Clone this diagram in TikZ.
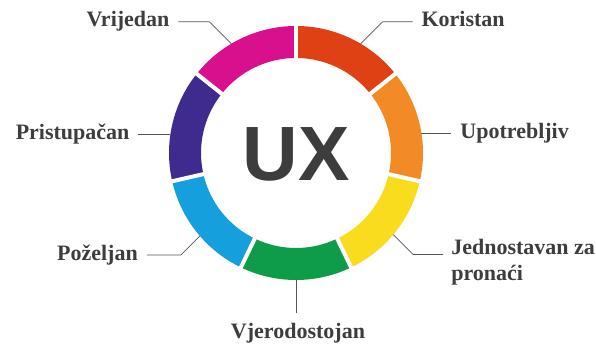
\documentclass[tikz,border=0pt]{standalone}
\usepackage{fontspec}
\setmainfont{Liberation Serif}
\newfontfamily\uxfont{Liberation Sans}
\usepackage{xcolor}
\usetikzlibrary{calc,positioning}

\definecolor{koristan}{HTML}{DF4014}
\definecolor{upotreba}{HTML}{F28A25}
\definecolor{pronaci}{HTML}{FADC1E}
\definecolor{vjerodost}{HTML}{0E9C4A}
\definecolor{pozeljan}{HTML}{159FDD}
\definecolor{pristup}{HTML}{3F2B8D}
\definecolor{vrijedan}{HTML}{D9108E}
\definecolor{tekst}{HTML}{3D3D3D}
\definecolor{linija}{HTML}{555555}

\begin{document}
\begin{tikzpicture}[x=1pt,y=1pt,
    lbl/.style={font=\fontsize{22}{26.5}\selectfont\bfseries, text=tekst,
        inner sep=1pt, outer sep=8pt, text height=14pt, text depth=4pt},
    lbltwo/.style={font=\fontsize{22}{26.5}\selectfont\bfseries, text=tekst,
        align=left, inner sep=0pt},
    lead/.style={draw=linija, line width=0.8pt}]
    \useasboundingbox (0,0) rectangle (596,347);
    \coordinate (C) at (296,194);

    % Ring
    \foreach \col [count=\i from 0] in {koristan,upotreba,pronaci,vjerodost,pozeljan,pristup,vrijedan} {
        \pgfmathsetmacro{\a}{90-\i*360/7}
        \pgfmathsetmacro{\b}{\a-360/7}
        \fill[\col] ($(C)+(\a:127pt)$) arc[start angle=\a, end angle=\b, radius=127pt]
            -- ($(C)+(\b:95pt)$) arc[start angle=\b, end angle=\a, radius=95pt] -- cycle;
    }
    \foreach \i in {0,...,6}
        \draw[white, line width=4pt] ($(C)+(90-\i*360/7:90pt)$) -- ($(C)+(90-\i*360/7:132pt)$);

    \node[font=\uxfont\fontsize{77}{77}\selectfont\bfseries, text=tekst,
        text height=55pt, text depth=0pt, inner sep=0pt] (ux) at (C) {UX};

    % Labels
    \coordinate (kr) at ($(C)+(59.4:127pt)$);
    \coordinate (kb) at ($(kr)+(45:31pt)$);
    \node[lbl, right=30pt of kb] (kor) {Koristan};
    \draw[lead] (kr) -- (kb) -- (kor.west);

    \coordinate (ur) at ($(C)+(9:127pt)$);
    \node[lbl, right=30pt of ur] (upo) {Upotrebljiv};
    \draw[lead] (ur) -- (upo.west);

    \coordinate (jr) at ($(C)+(-40:127pt)$);
    \coordinate (jb) at ($(jr)+(-45:28pt)$);
    \coordinate (je) at ($(jb)+(30pt,0)$);
    \node[lbltwo, anchor=base west, xshift=8pt, yshift=-26.5pt] (jed) at (je) {Jednostavan za\\pronaći};
    \draw[lead] (jr) -- (jb) -- (je);

    \coordinate (vr) at ($(C)+(-90:127pt)$);
    \coordinate (vb) at ($(vr)+(0,-33pt)$);
    \node[lbl, below=3pt of vb, xshift=2pt] (vje) {Vjerodostojan};
    \draw[lead] (vr) -- (vb);

    \coordinate (pr) at ($(C)+(220.8:127pt)$);
    \coordinate (pb) at ($(pr)+(225:27pt)$);
    \node[lbl, left=34pt of pb] (poz) {Poželjan};
    \draw[lead] (pr) -- (pb) -- (poz.east);

    \coordinate (sr) at ($(C)+(171.4:127pt)$);
    \node[lbl, left=32pt of sr] (pri) {Pristupačan};
    \draw[lead] (sr) -- (pri.east);

    \coordinate (dr) at ($(C)+(120.6:127pt)$);
    \coordinate (db) at ($(dr)+(135:31pt)$);
    \node[lbl, left=31pt of db] (vri) {Vrijedan};
    \draw[lead] (dr) -- (db) -- (vri.east);
\end{tikzpicture}
\end{document}
